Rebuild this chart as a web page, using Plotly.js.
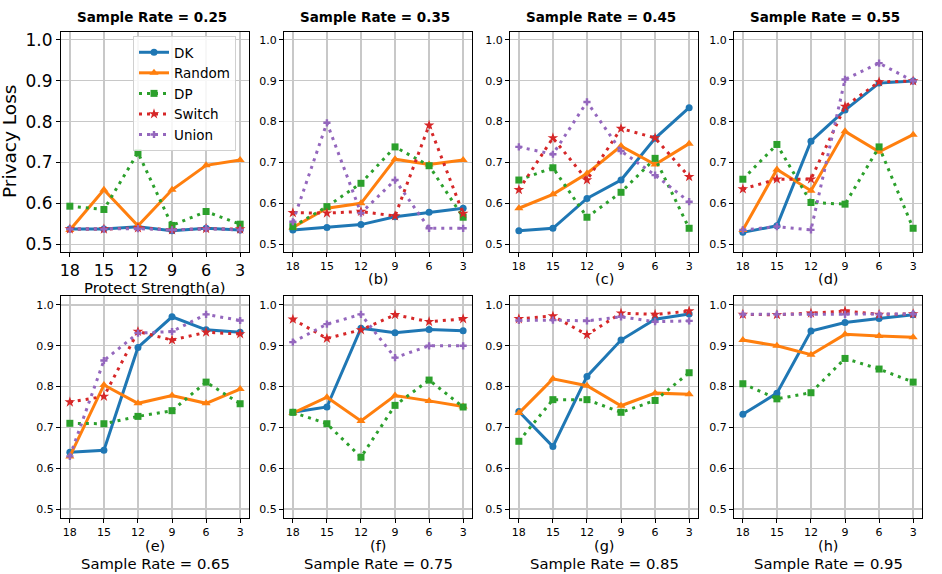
<!DOCTYPE html>
<html><head><meta charset="utf-8">
<script src="https://cdn.plot.ly/plotly-3.0.1.min.js"></script>
<style>html,body{margin:0;padding:0;background:#fff}</style>
</head><body><div id="chart" style="width:942px;height:574px"></div>
<script>
const strengths = ['18','15','12','9','6','3'];
const sampleRates = ['0.25','0.35','0.45','0.55','0.65','0.75','0.85','0.95'];
const panelLetters = ['a','b','c','d','e','f','g','h'];
const yTicks = [0.5,0.6,0.7,0.8,0.9,1.0];
const methods = ['DK','Random','DP','Switch','Union'];

const DK = [
 [0.537,0.537,0.543,0.533,0.539,0.535],
 [0.535,0.541,0.548,0.567,0.578,0.588],
 [0.533,0.539,0.612,0.657,0.759,0.834],
 [0.529,0.545,0.752,0.828,0.894,0.899],
 [0.639,0.644,0.896,0.971,0.939,0.933],
 [0.737,0.750,0.943,0.932,0.940,0.937],
 [0.739,0.653,0.825,0.914,0.965,0.978],
 [0.732,0.784,0.936,0.957,0.967,0.976]
];
const Random = [
 [0.535,0.633,0.545,0.633,0.693,0.706],
 [0.541,0.588,0.600,0.708,0.695,0.706],
 [0.588,0.622,0.673,0.740,0.695,0.746],
 [0.535,0.683,0.631,0.776,0.726,0.768],
 [0.629,0.804,0.759,0.778,0.759,0.794],
 [0.735,0.774,0.716,0.778,0.765,0.751],
 [0.735,0.819,0.802,0.753,0.784,0.781],
 [0.914,0.900,0.878,0.928,0.924,0.921]
];
const DP = [
 [0.593,0.585,0.724,0.546,0.580,0.549],
 [0.543,0.592,0.649,0.738,0.692,0.566],
 [0.657,0.687,0.566,0.627,0.710,0.539],
 [0.659,0.744,0.602,0.598,0.738,0.539],
 [0.710,0.709,0.727,0.741,0.811,0.758],
 [0.737,0.709,0.627,0.754,0.816,0.750],
 [0.666,0.768,0.768,0.737,0.766,0.834],
 [0.807,0.770,0.785,0.869,0.843,0.811]
];
const Switch = [
 [0.537,0.537,0.540,0.535,0.538,0.537],
 [0.577,0.576,0.580,0.569,0.791,0.575],
 [0.633,0.760,0.657,0.783,0.760,0.665],
 [0.635,0.659,0.659,0.837,0.897,0.899],
 [0.762,0.776,0.935,0.914,0.933,0.929],
 [0.965,0.918,0.939,0.976,0.959,0.966],
 [0.966,0.973,0.927,0.980,0.977,0.985],
 [0.977,0.976,0.980,0.985,0.977,0.978]
];
const Union = [
 [0.537,0.537,0.538,0.535,0.538,0.535],
 [0.555,0.797,0.576,0.657,0.539,0.539],
 [0.738,0.720,0.848,0.728,0.669,0.604],
 [0.535,0.543,0.535,0.903,0.943,0.899],
 [0.629,0.864,0.931,0.935,0.977,0.962],
 [0.909,0.953,0.977,0.871,0.900,0.900],
 [0.962,0.963,0.961,0.971,0.959,0.961],
 [0.977,0.977,0.977,0.977,0.977,0.978]
];
const seriesData = {DK: DK, Random: Random, DP: DP, Switch: Switch, Union: Union};

const styles = {
  DK:     {color:'#1f77b4', dash:'solid',     symbol:'circle',      size:7},
  Random: {color:'#ff7f0e', dash:'solid',     symbol:'triangle-up', size:8},
  DP:     {color:'#2ca02c', dash:'3px,5px',   symbol:'square',      size:7},
  Switch: {color:'#d62728', dash:'3px,5px',   symbol:'star',        size:8},
  Union:  {color:'#9467bd', dash:'3px,5px',   symbol:'cross',       size:6}
};

const W = 942, H = 574;
const px = x => x / W;
const py = y => 1 - y / H;
const lefts = [61, 284, 510, 734];
const pw = 188;
const rows = [[32, 252], [296, 518]];
const font = 'DejaVu Sans, Liberation Sans, sans-serif';

const traces = [];
const layout = {
  width: W, height: H,
  margin: {l:0, r:0, t:0, b:0},
  paper_bgcolor: '#fff', plot_bgcolor: '#fff',
  font: {family: font, color: '#000'},
  showlegend: true,
  legend: {
    x: px(133), y: py(36), xanchor: 'left', yanchor: 'top',
    bgcolor: 'rgba(255,255,255,0.85)', bordercolor: '#d0d0d0', borderwidth: 1,
    font: {family: font, size: 13.5, color: '#000'},
    itemwidth: 30, tracegroupgap: 0
  },
  annotations: []
};

for (let p = 0; p < 8; p++) {
  const r = p < 4 ? 0 : 1;
  const c = p % 4;
  const xid = p === 0 ? 'x' : 'x' + (p + 1);
  const yid = p === 0 ? 'y' : 'y' + (p + 1);
  const big = p === 0;
  layout[p === 0 ? 'xaxis' : 'xaxis' + (p + 1)] = {
    domain: [px(lefts[c]), px(lefts[c] + pw)],
    anchor: yid, type: 'category', range: [-0.26, 5.26],
    showline: true, mirror: true, linecolor: '#000', linewidth: 1,
    showgrid: true, gridcolor: '#c8c8c8', gridwidth: 1.3,
    ticks: 'outside', ticklen: 4, tickwidth: 1, tickcolor: '#000',
    tickfont: {family: font, size: big ? 16 : 11, color: '#000'},
    zeroline: false, fixedrange: true
  };
  layout[p === 0 ? 'yaxis' : 'yaxis' + (p + 1)] = {
    domain: [py(rows[r][1]), py(rows[r][0])],
    anchor: xid, range: r === 0 ? [0.481, 1.019] : [0.478, 1.022],
    tickvals: yTicks, tickformat: '.1f',
    showline: true, mirror: true, linecolor: '#000', linewidth: 1,
    showgrid: true, gridcolor: '#c8c8c8', gridwidth: 1.3,
    ticks: 'outside', ticklen: 4, tickwidth: 1, tickcolor: '#000',
    tickfont: {family: font, size: big ? 17 : 11, color: '#000'},
    zeroline: false, fixedrange: true
  };
  methods.forEach(m => {
    const s = styles[m];
    traces.push({
      type: 'scatter', mode: 'lines+markers', name: m,
      x: strengths, y: seriesData[m][p],
      xaxis: xid, yaxis: yid,
      showlegend: p === 0, legendgroup: m,
      line: {color: s.color, width: 3, dash: s.dash},
      marker: {color: s.color, symbol: s.symbol, size: s.size, line: {width: 0}}
    });
  });
  const cx = lefts[c] + pw / 2;
  if (r === 0) {
    layout.annotations.push({
      xref: 'paper', yref: 'paper', x: px(cx - 3), y: py(16.5),
      xanchor: 'center', yanchor: 'middle', showarrow: false,
      text: '<b>Sample Rate = ' + sampleRates[p] + '</b>',
      font: {family: font, size: 13.5, color: '#000'}
    });
    layout.annotations.push({
      xref: 'paper', yref: 'paper', x: px(cx), y: py(p === 0 ? 287.5 : 279),
      xanchor: 'center', yanchor: 'middle', showarrow: false,
      text: p === 0 ? 'Protect Strength(' + panelLetters[p] + ')' : '(' + panelLetters[p] + ')',
      font: {family: font, size: p === 0 ? 14.8 : 14.5, color: '#000'}
    });
  } else {
    layout.annotations.push({
      xref: 'paper', yref: 'paper', x: px(cx), y: py(546),
      xanchor: 'center', yanchor: 'middle', showarrow: false,
      text: '(' + panelLetters[p] + ')',
      font: {family: font, size: 14.5, color: '#000'}
    });
    layout.annotations.push({
      xref: 'paper', yref: 'paper', x: px(cx), y: py(563),
      xanchor: 'center', yanchor: 'middle', showarrow: false,
      text: 'Sample Rate = ' + sampleRates[p],
      font: {family: font, size: 14.8, color: '#000'}
    });
  }
}
layout.annotations.push({
  xref: 'paper', yref: 'paper', x: px(10), y: py(142),
  xanchor: 'center', yanchor: 'middle', showarrow: false, textangle: -90,
  text: 'Privacy Loss', font: {family: font, size: 18.5, color: '#000'}
});

Plotly.newPlot('chart', traces, layout, {displayModeBar: false, staticPlot: true});
</script>
</body></html>
